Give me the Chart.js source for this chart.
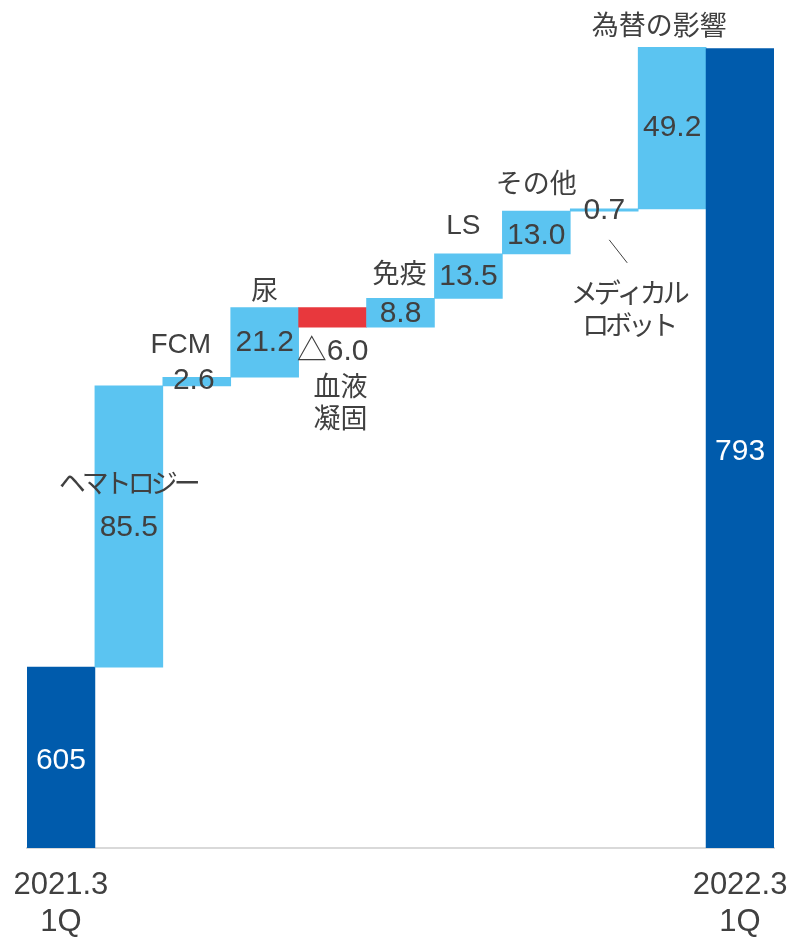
<!DOCTYPE html>
<html>
<head>
<meta charset="utf-8">
<script src="https://cdn.jsdelivr.net/npm/chart.js@4.4.1/dist/chart.umd.min.js"></script>
<style>
html,body{margin:0;padding:0;background:#fff}
</style>
</head>
<body>
<canvas id="c" width="793" height="937"></canvas>
<script>
// data
var categories = ['2021.3\n1Q', 'ヘマトロジー', 'FCM', '尿', '血液\n凝固', '免疫', 'LS', 'その他', 'メディカル\nロボット', '為替の影響', '2022.3\n1Q'];
var startValue = 605;
var changes = [85.5, 2.6, 21.2, -6.0, 8.8, 13.5, 13.0, 0.7, 49.2];
var endValue = 793;
var valueLabels = ['605', '85.5', '2.6', '21.2', '△6.0', '8.8', '13.5', '13.0', '0.7', '49.2', '793'];
var yMin = 550, yMax = 793.5;

// floating bars for the waterfall
var ranges = [[0, startValue]];
var colors = ['#005bac'];
var run = startValue;
for (var i = 0; i < changes.length; i++) {
    ranges.push([run, run + changes[i]]);
    colors.push(changes[i] < 0 ? '#e8383d' : '#5bc4f1');
    run += changes[i];
}
ranges.push([0, endValue]);
colors.push('#005bac');

// where each label sits, relative to its bar
var place = [
    {v: {at: 'mid', dy: 3}, white: true},
    {v: {at: 'mid', dy: 1}, c: {at: 'mid', dx: -1, dy: -44, tight: true}},
    {v: {at: 'top', dx: -3, dy: 3}, c: {at: 'top', dx: -16, dy: -32, latin: true}},
    {v: {at: 'mid', dy: 0}, c: {at: 'top', dx: 0, dy: -18}},
    {v: {at: 'bottom', dx: 0, dy: 24}, c: {at: 'bottom', dx: 8, dy: 58}},
    {v: {at: 'mid', dy: 1}, c: {at: 'top', dx: -1, dy: -26}},
    {v: {at: 'mid', dy: 1}, c: {at: 'top', dx: -5, dy: -28, latin: true}},
    {v: {at: 'mid', dy: 3}, c: {at: 'top', dx: 0, dy: -28}},
    {v: {at: 'top', dx: 0, dy: 2}, c: {at: 'top', dx: 24, dy: 84, tight: true}, lead: [5, 31, 23, 54]},
    {v: {at: 'mid', dy: 0}, c: {at: 'top', dx: -13, dy: -22}},
    {v: {at: 'mid', dy: 3}, white: true}
];

var labelPlugin = {
    id: 'wfLabels',
    afterDatasetsDraw: function(chart) {
        var ctx = chart.ctx;
        var bars = chart.getDatasetMeta(0).data;
        ctx.save();
        ctx.textAlign = 'center';
        ctx.textBaseline = 'middle';
        bars.forEach(function(bar, i) {
            var p = place[i];
            var top = Math.min(bar.y, bar.base), bottom = Math.max(bar.y, bar.base);
            bottom = Math.min(bottom, chart.chartArea.bottom);
            function anchor(a) {
                var y = a.at === 'top' ? top : a.at === 'bottom' ? bottom : (top + bottom) / 2;
                return [bar.x + (a.dx || 0), y + (a.dy || 0)];
            }
            var pv = anchor(p.v);
            ctx.letterSpacing = '0px';
            ctx.fillStyle = p.white ? '#ffffff' : '#404040';
            ctx.font = '30px "Liberation Sans", Arial, "Noto Sans CJK JP", sans-serif';
            ctx.fillText(valueLabels[i], pv[0], pv[1]);
            if (p.c) {
                var pc = anchor(p.c);
                ctx.fillStyle = '#404040';
                if (p.c.latin) {
                    ctx.font = '28px "Liberation Sans", Arial, sans-serif';
                } else {
                    ctx.font = '27px "Noto Sans CJK JP", sans-serif';
                    ctx.letterSpacing = p.c.tight ? '-4px' : '0px';
                }
                categories[i].split('\n').forEach(function(line, k) {
                    ctx.fillText(line, pc[0], pc[1] + k * 32);
                });
                ctx.letterSpacing = '0px';
            }
            if (p.lead) {
                ctx.strokeStyle = '#404040';
                ctx.lineWidth = 1;
                ctx.beginPath();
                ctx.moveTo(bar.x + p.lead[0], top + p.lead[1]);
                ctx.lineTo(bar.x + p.lead[2], top + p.lead[3]);
                ctx.stroke();
            }
        });
        ctx.restore();
    }
};

new Chart(document.getElementById('c'), {
    type: 'bar',
    data: {
        labels: categories,
        datasets: [{
            data: ranges,
            backgroundColor: colors,
            borderWidth: 0,
            barPercentage: 1,
            categoryPercentage: 1
        }]
    },
    options: {
        responsive: false,
        animation: false,
        devicePixelRatio: 1,
        layout: {padding: {top: 47, left: 27, right: 19, bottom: 0}},
        plugins: {legend: {display: false}, tooltip: {enabled: false}},
        scales: {
            x: {
                grid: {display: false, drawTicks: false},
                border: {display: true, color: '#d9d9d9', width: 2},
                ticks: {
                    autoSkip: false,
                    maxRotation: 0,
                    padding: 19,
                    color: '#404040',
                    font: {family: '"Liberation Sans", Arial, sans-serif', size: 31, lineHeight: 1.2},
                    callback: function(v, idx) {
                        return (idx === 0 || idx === categories.length - 1) ? categories[idx].split('\n') : '';
                    }
                },
                afterFit: function(scale) {
                    scale.height = 89;
                    scale.paddingLeft = 0;
                    scale.paddingRight = 0;
                }
            },
            y: {display: false, min: yMin, max: yMax}
        }
    },
    plugins: [labelPlugin]
});
</script>
</body>
</html>
